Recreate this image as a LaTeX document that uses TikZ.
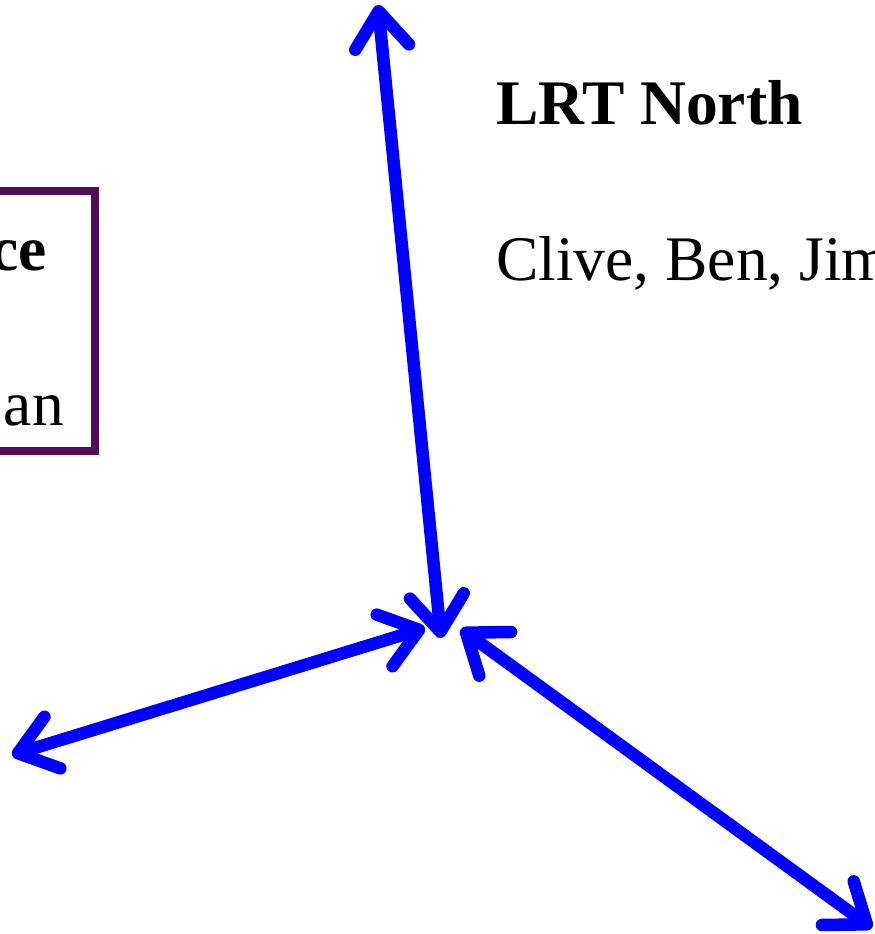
\documentclass[tikz,border=0pt]{standalone}
\usepackage{fontspec}
\setmainfont{Liberation Serif}
\usetikzlibrary{arrows.meta}
\definecolor{boxpurple}{RGB}{82,12,88}
\tikzset{
  link/.style={draw=blue, line width=12.5pt,
    {Straight Barb[length=36pt,width=54pt,round]}-{Straight Barb[length=36pt,width=54pt,round]}},
  bigtext/.style={inner sep=0pt, font=\fontsize{63.5}{70}\selectfont},
  boxframe/.style={draw=boxpurple, line width=8pt}
}
\begin{document}
\begin{tikzpicture}[x=1pt,y=-1pt]
\useasboundingbox (0,0) rectangle (875,934);
\clip (0,0) rectangle (875,934);
% framed box on the left (cut by the edge)
\draw[boxframe] (-20,191) rectangle (94.5,451);
\node[bigtext, anchor=base east, font=\fontsize{63.5}{70}\selectfont\bfseries] (boxtitle) at (47,270) {ce};
\node[bigtext, anchor=base east] (boxnames) at (64,425) {an};
% LRT North
\node[bigtext, anchor=base west, font=\fontsize{63.5}{70}\selectfont\bfseries] (north) at (496,124) {LRT North};
\node[bigtext, anchor=base west] (northnames) at (496,280) {Clive, Ben, Jim};
% arrow end points
\coordinate (top) at (378,5);
\coordinate (hubA) at (441,638);
\coordinate (hubL) at (425,628);
\coordinate (left) at (12,755);
\coordinate (hubR) at (461,629);
\coordinate (right) at (872,928);
\draw[link] (top) -- (hubA);
\draw[link] (left) -- (hubL);
\draw[link] (hubR) -- (right);
\end{tikzpicture}
\end{document}
